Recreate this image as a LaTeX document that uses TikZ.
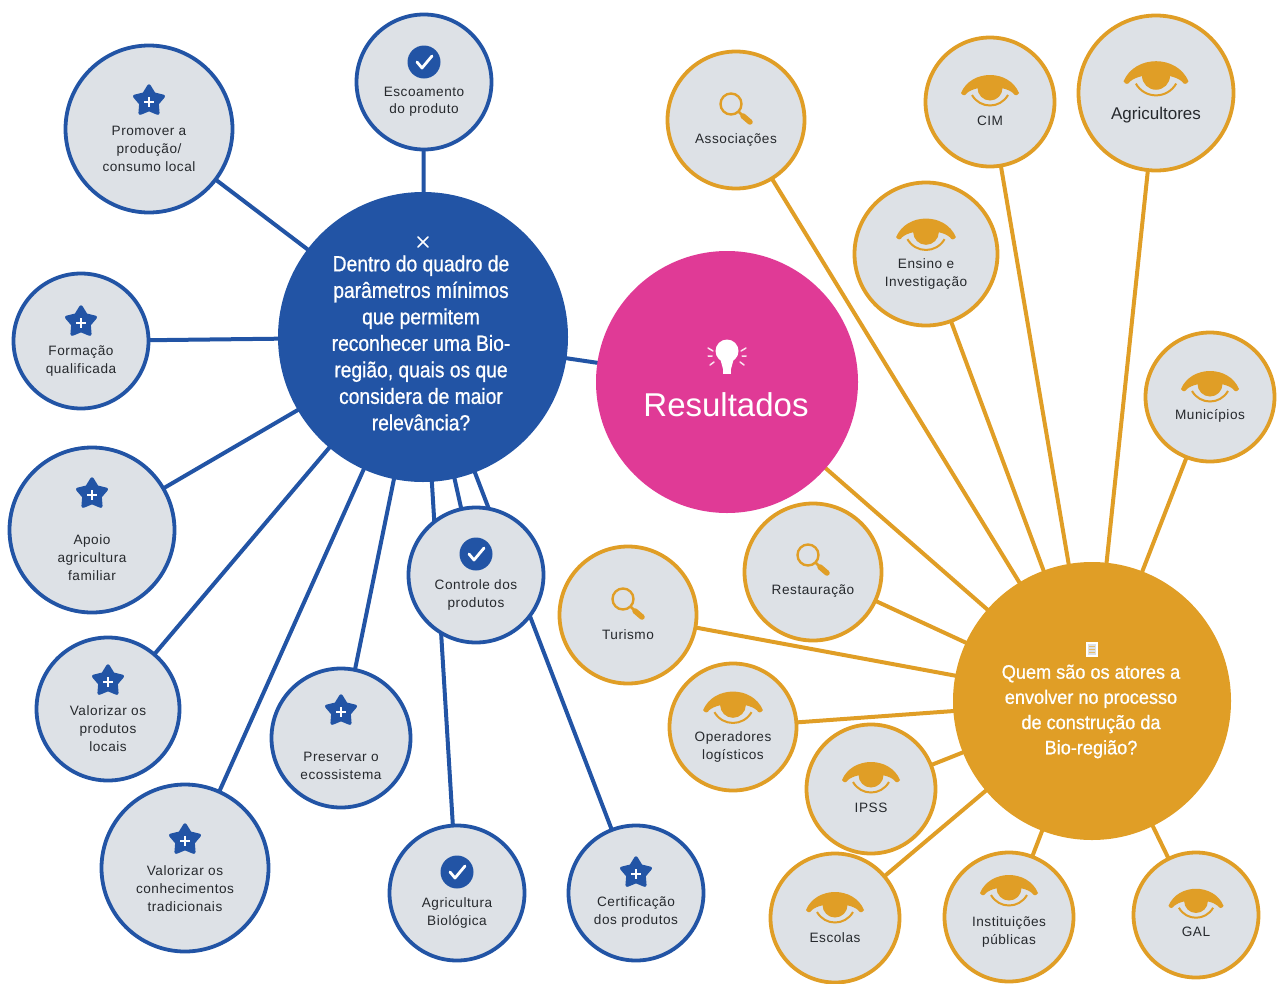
\documentclass[tikz,border=0pt]{standalone}
\usepackage{fontspec}
\setmainfont{Liberation Sans}
\newfontfamily\leaffont[LetterSpace=4]{Liberation Sans}
\newfontfamily\hubfont[FakeStretch=.875,FakeBold=.8]{Liberation Sans}
\newfontfamily\hubfontb[FakeStretch=.93,FakeBold=.8]{Liberation Sans}
\usetikzlibrary{backgrounds}
\definecolor{bluec}{HTML}{2254A5}
\definecolor{orangec}{HTML}{E09E26}
\definecolor{pinkc}{HTML}{E03A96}
\definecolor{leaffill}{HTML}{DDE1E6}
\definecolor{inkc}{HTML}{26292D}
\tikzset{
  x=1pt,y=-1pt,
  leafbase/.style={circle,fill=leaffill,line width=3.8pt,inner sep=0pt},
  blueleaf/.style={leafbase,draw=bluec},
  orangeleaf/.style={leafbase,draw=orangec},
  hubnode/.style={circle,inner sep=0pt},
  leaftext/.style={align=center,text=inkc,font=\leaffont\fontsize{13.6}{17.8}\selectfont,inner sep=0pt},
  hubtext/.style={align=center,text=white,inner sep=0pt},
  bluelink/.style={draw=bluec,line width=4pt},
  orangelink/.style={draw=orangec,line width=4pt},
  staric/.pic={
    \fill[bluec,draw=bluec,line width=3.5pt,line join=round]
      (-90:15) -- (-54:8.5) -- (-18:15) -- (18:8.5) -- (54:15) -- (90:8.5)
      -- (126:15) -- (162:8.5) -- (198:15) -- (234:8.5) -- cycle;
    \draw[white,line width=1.7pt] (-5,1) -- (5,1) (0,-4) -- (0,6);
  },
  checkic/.pic={
    \fill[bluec] (0,0) circle (16.5);
    \draw[white,line width=2.8pt,line cap=round,line join=round] (-7,0) -- (-2,6) -- (8,-6);
  },
  eyeic/.pic={
    \begin{scope}[scale=#1]
    \fill[orangec] (-29,3) .. controls (-19,-21) and (19,-21) .. (29,3)
      .. controls (27,6) and (25,6) .. (23,3) .. controls (14,-5) and (-14,-5) .. (-23,3)
      .. controls (-25,6) and (-27,6) .. cycle;
    \fill[orangec] (0,-2) circle (12.5);
    \draw[orangec,line width=2pt] (-18,5) .. controls (-10,19) and (10,19) .. (18,5);
    \end{scope}
  },
  magic/.pic={
    \draw[orangec,line width=2.4pt] (-5,-4) circle (10.5);
    \draw[orangec,line width=2.6pt] (2.5,3.5) -- (7,8);
    \draw[orangec,line width=5.5pt,line cap=round] (7,8) -- (14,14);
  },
}
\newcommand\leafnode[9]{%
  \node[#5,minimum size=#4*2pt-1pt] (#1) at (#2,#3) {};
  \pic at (#2,#7) {#6};
  \node[leaftext] (#1t) at (#2,#8+.7) {#9};
}
\begin{document}
\begin{tikzpicture}
\useasboundingbox (0,0) rectangle (1282,983);

\node[hubnode,fill=bluec,minimum size=290pt] (bhub) at (423,337) {};
\node[hubnode,fill=pinkc,minimum size=262pt] (phub) at (727,382) {};
\node[hubnode,fill=orangec,minimum size=278pt] (ohub) at (1092,701) {};

% blue leaves
\leafnode{promover}{149}{129}{84}{blueleaf}{staric}{101}{148}{Promover a\\produção/\\consumo local}
\leafnode{escoamento}{424}{82}{68}{blueleaf}{checkic}{62}{101}{Escoamento\\do produto}
\leafnode{formacao}{81}{341}{68}{blueleaf}{staric}{322}{360}{Formação\\qualificada}
\leafnode{apoio}{92}{530}{83}{blueleaf}{staric}{494}{557}{Apoio\\agricultura\\familiar}
\leafnode{valprod}{108}{709}{72}{blueleaf}{staric}{681}{728}{Valorizar os\\produtos\\locais}
\leafnode{valcon}{185}{868}{84}{blueleaf}{staric}{840}{888}{Valorizar os\\conhecimentos\\tradicionais}
\leafnode{preservar}{341}{738}{70}{blueleaf}{staric}{711}{765}{Preservar o\\ecossistema}
\leafnode{controle}{476}{575}{68}{blueleaf}{checkic}{554}{594}{Controle dos\\produtos}
\leafnode{agric}{457}{893}{68}{blueleaf}{checkic}{872}{912}{Agricultura\\Biológica}
\leafnode{certif}{636}{893}{68}{blueleaf}{staric}{873}{911}{Certificação\\dos produtos}

% orange leaves
\leafnode{assoc}{736}{120}{69}{orangeleaf}{magic}{108}{139}{Associações}
\leafnode{cim}{990}{102}{65}{orangeleaf}{eyeic=1}{90}{120}{CIM}
\node[orangeleaf,minimum size=155pt] (agri) at (1156,93) {};
\pic at (1156,78) {eyeic=1.12};
\node[leaftext,font=\fontsize{17}{20}\selectfont] (agrit) at (1156,115) {Agricultores};
\leafnode{ensino}{926}{254}{72}{orangeleaf}{eyeic=1.03}{234}{273}{Ensino e\\Investigação}
\leafnode{munic}{1210}{397}{65}{orangeleaf}{eyeic=1}{386}{415}{Municípios}
\leafnode{restau}{813}{572}{69}{orangeleaf}{magic}{559}{590}{Restauração}
\leafnode{turismo}{628}{615}{69}{orangeleaf}{magic}{603}{634}{Turismo}
\leafnode{oper}{733}{727}{64}{orangeleaf}{eyeic=1.03}{707}{746}{Operadores\\logísticos}
\leafnode{ipss}{871}{789}{65}{orangeleaf}{eyeic=1}{777}{807}{IPSS}
\leafnode{escolas}{835}{918}{65}{orangeleaf}{eyeic=1}{907}{937}{Escolas}
\leafnode{instit}{1009}{917}{65}{orangeleaf}{eyeic=1}{890}{931}{Instituições\\públicas}
\leafnode{gal}{1196}{915}{63}{orangeleaf}{eyeic=.95}{903}{931}{GAL}

% connectors, behind the circles
\begin{pgfonlayer}{background}
\foreach \n in {promover,escoamento,formacao,apoio,valprod,valcon,preservar,controle,agric,certif,phub}
  \draw[bluelink] (bhub.center) -- (\n.center);
\foreach \n in {assoc,cim,agri,ensino,munic,restau,turismo,oper,ipss,escolas,instit,gal,phub}
  \draw[orangelink] (ohub.center) -- (\n.center);
\end{pgfonlayer}

% hub texts
\node[hubtext,font=\hubfont\fontsize{22}{26.5}\selectfont] (bhubt) at (421,343)
  {Dentro do quadro de\\parâmetros mínimos\\que permitem\\reconhecer uma Bio-\\região, quais os que\\considera de maior\\relevância?};
\draw[white,line width=1.5pt,line cap=round] (418,237) -- (428,247) (428,237) -- (418,247);

\node[hubtext,font=\hubfontb\fontsize{19.5}{25.2}\selectfont] (ohubt) at (1091,711.5)
  {Quem são os atores a\\envolver no processo\\de construção da\\Bio-região?};
\draw[white,fill=leaffill,line width=1.2pt] (1087,643) rectangle (1097,656);
\draw[orangec!70!white,line width=.8pt] (1089,646.5) -- (1095,646.5) (1089,649.5) -- (1095,649.5) (1089,652.5) -- (1095,652.5);

\node[hubtext,font=\fontsize{33}{36}\selectfont] (phubt) at (726,405) {Resultados};
\fill[white] (727,351) circle (11.5);
\fill[white] (720,358) -- (734,358) -- (731,369) -- (723,369) -- cycle;
\fill[white] (723,369) rectangle (731,374);
\draw[white,line width=1.5pt,line cap=round,opacity=.85]
  (708,348) -- (713,351) (708,356) -- (712,356) (710,365) -- (714,362)
  (746,348) -- (741,351) (746,356) -- (742,356) (744,365) -- (740,362);
\end{tikzpicture}
\end{document}
